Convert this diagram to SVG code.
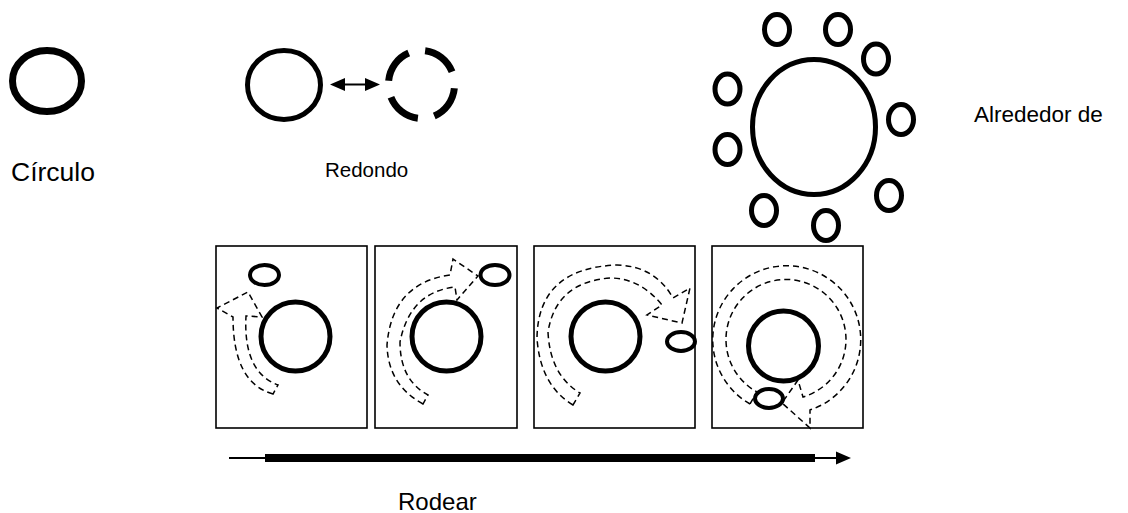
<svg xmlns="http://www.w3.org/2000/svg" width="1128" height="513" viewBox="0 0 1128 513">
  <style>
    .lbl { font-family: "Liberation Sans", Arial, sans-serif; fill: #000; }
    .ring { fill: #fff; stroke: #000; }
    .panel { fill: #fff; stroke: #000; stroke-width: 1.6; }
    .path-arrow { fill: none; stroke: #000; stroke-width: 1.5; stroke-dasharray: 6 4; stroke-linejoin: miter; }
  </style>
  <rect width="1128" height="513" fill="#fff"/>

  <!-- Círculo -->
  <g id="circulo">
    <ellipse class="ring" cx="47" cy="81" rx="34.5" ry="30.5" stroke-width="7"/>
    <text class="lbl" x="11" y="181" font-size="26.5">Círculo</text>
  </g>

  <!-- Redondo: solid ring and broken ring -->
  <g id="redondo">
    <ellipse class="ring" cx="284" cy="85" rx="36.5" ry="34.5" stroke-width="5"/>
    <ellipse cx="421.5" cy="84.5" rx="33" ry="34" fill="none" stroke="#000" stroke-width="7"
             pathLength="200" stroke-dasharray="34 16" stroke-dashoffset="42" transform="rotate(-8 421.5 84.5)"/>
    <text class="lbl" x="325" y="177" font-size="20.5">Redondo</text>
  </g>

  <!-- Alrededor de: centre ring with nine small rings -->
  <g id="alrededor">
    <ellipse class="ring" cx="814" cy="127" rx="61.5" ry="67.5" stroke-width="5"/>
    <g stroke-width="5">
      <ellipse class="ring" cx="777" cy="29.5" rx="12.5" ry="15"/>
      <ellipse class="ring" cx="838" cy="29.5" rx="12.5" ry="15"/>
      <ellipse class="ring" cx="876" cy="59" rx="12.5" ry="15"/>
      <ellipse class="ring" cx="727.5" cy="89" rx="12.5" ry="15"/>
      <ellipse class="ring" cx="901" cy="119.5" rx="12.5" ry="15"/>
      <ellipse class="ring" cx="727.5" cy="149.5" rx="12.5" ry="15"/>
      <ellipse class="ring" cx="889" cy="195.5" rx="12.5" ry="15"/>
      <ellipse class="ring" cx="764" cy="210.5" rx="12.5" ry="15"/>
      <ellipse class="ring" cx="826" cy="225.5" rx="12.5" ry="15"/>
    </g>
    <text class="lbl" x="974" y="122" font-size="22.5">Alrededor de</text>
  </g>

  <!-- Rodear, step 1 -->
  <g id="step1">
    <rect class="panel" x="216" y="246" width="151" height="182"/>
    <path class="path-arrow" d="M273,394 Q233,383 233,317 L217,308 L248,292 L262,317 L246,316 Q243,372 278,385 Z"/>
    <circle class="ring" cx="295.5" cy="336.5" r="34.5" stroke-width="5"/>
    <ellipse class="ring" cx="264.5" cy="275" rx="14.5" ry="10" stroke-width="4"/>
  </g>

  <!-- Rodear, step 2 -->
  <g id="step2">
    <rect class="panel" x="375" y="246" width="142" height="182"/>
    <path class="path-arrow" d="M423,404 Q388,385 387,345 Q392,283 450,275 L453,259 L478,276 L457,300 L455,287 Q410,292 400,342 Q400,380 428,395 Z"/>
    <circle class="ring" cx="446.5" cy="336.5" r="34.5" stroke-width="5"/>
    <ellipse class="ring" cx="495" cy="275" rx="14.5" ry="10" stroke-width="4"/>
  </g>

  <!-- Rodear, step 3 -->
  <g id="step3">
    <rect class="panel" x="534" y="246" width="161" height="182"/>
    <path class="path-arrow" d="M573,405 Q540,385 537,338 Q538,268 617,265 Q655,266 673,298 L690,288 L682,323 L647,315 L662,305 Q640,278 610,278 Q556,282 548,332 Q550,375 580,393 Z"/>
    <circle class="ring" cx="605.5" cy="336.5" r="34.5" stroke-width="5"/>
    <ellipse class="ring" cx="681" cy="341.5" rx="14" ry="9.5" stroke-width="4"/>
  </g>

  <!-- Rodear, step 4 -->
  <g id="step4">
    <rect class="panel" x="712" y="246" width="151" height="182"/>
    <path class="path-arrow" d="M750,404 A74,74 0 1 1 810,410 L810,428 L782,403 L798,380 L803,397 A60,60 0 1 0 757,392 Z"/>
    <circle class="ring" cx="783.5" cy="346" r="35" stroke-width="5"/>
    <ellipse class="ring" cx="769" cy="398.5" rx="14" ry="9.5" stroke-width="4"/>
  </g>

  <!-- connectors -->
  <g id="connectors">
    <!-- two-way arrow between the rings -->
    <line x1="342" y1="84.5" x2="368" y2="84.5" stroke="#000" stroke-width="2"/>
    <polygon points="330,84.5 345,78 345,91" fill="#000"/>
    <polygon points="380,84.5 365,78 365,91" fill="#000"/>
    <!-- long arrow under the steps -->
    <line x1="229" y1="458" x2="838" y2="458" stroke="#000" stroke-width="2"/>
    <rect x="265" y="454" width="550" height="8" fill="#000"/>
    <polygon points="836,451.5 851,458 836,464.5" fill="#000"/>
  </g>

  <text id="rodear" class="lbl" x="398" y="510" font-size="24">Rodear</text>
</svg>
